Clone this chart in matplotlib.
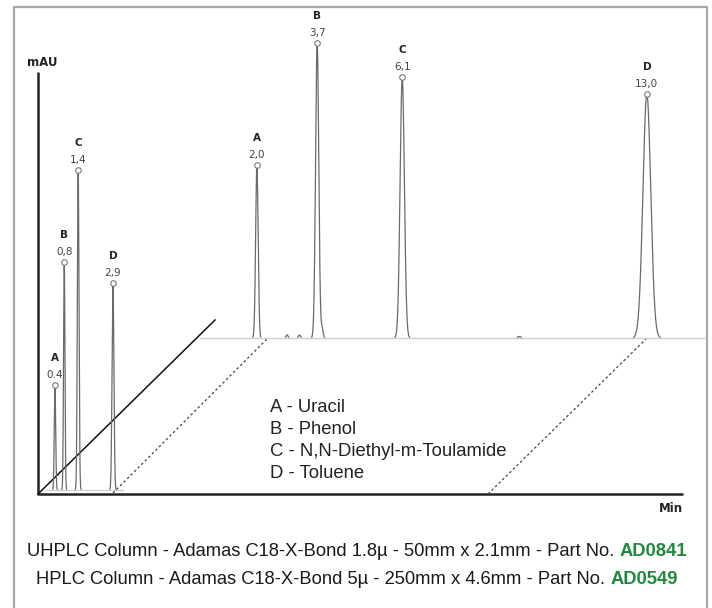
import matplotlib
matplotlib.use('Agg')
import matplotlib.pyplot as plt
import numpy as np

# peaks: label, retention time (min), height (mAU), width sigma (min)
peak_labels = ['A', 'B', 'C', 'D']
uhplc_times = [0.4, 0.8, 1.4, 2.9]
uhplc_heights = [105, 228, 320, 207]
uhplc_sigma = [0.03, 0.03, 0.035, 0.04]
uhplc_tick_text = ['0.4', '0,8', '1,4', '2,9']

hplc_times = [2.0, 3.7, 6.1, 13.0]
hplc_heights = [173, 295, 261, 244]
hplc_sigma = [0.035, 0.045, 0.06, 0.11]
hplc_tick_text = ['2,0', '3,7', '6,1', '13,0']

# small baseline bumps on the HPLC run
minor_times = [2.85, 3.2, 3.84, 9.4]
minor_heights = [3, 3, 9, 1.5]
minor_sigma = [0.03, 0.03, 0.03, 0.05]

compounds = ['A - Uracil', 'B - Phenol', 'C - N,N-Diethyl-m-Toulamide', 'D - Toluene']
footer_lines = [('UHPLC Column - Adamas C18-X-Bond 1.8\u00b5 - 50mm x 2.1mm - Part No. ', 'AD0841'),
                ('HPLC Column - Adamas C18-X-Bond 5\u00b5 - 250mm x 4.6mm - Part No. ', 'AD0549')]

W, H = 712, 608
fig = plt.figure(figsize=(W / 100, H / 100), dpi=100)

# background axes in pixel coordinates for frame, axes lines and texts
bg = fig.add_axes([0, 0, 1, 1])
bg.set_xlim(0, W)
bg.set_ylim(H, 0)
bg.axis('off')


def pix_axes(x0, x1, ytop, ybot):
    return fig.add_axes([x0 / W, 1 - ybot / H, (x1 - x0) / W, (ybot - ytop) / H])


def signal(t, times, heights, sigmas):
    y = np.zeros_like(t)
    for rt, h, s in zip(times, heights, sigmas):
        y += h * np.exp(-0.5 * ((t - rt) / s) ** 2)
    return y


def draw_run(ax, t, times, heights, sigmas, texts, extra=None):
    y = signal(t, times, heights, sigmas)
    if extra is not None:
        y += signal(t, *extra)
    ax.plot([t[0], t[-1]], [0, 0], color='#cfcfcf', lw=1.0, zorder=1)
    yp = np.where(y > 0.8, y, np.nan)
    ax.plot(t, yp, color='#6a6a6a', lw=0.9, zorder=2)
    for lab, rt, h, txt in zip(peak_labels, times, heights, texts):
        ax.plot(rt, h, 'o', ms=4, mfc='white', mec='#777777', mew=0.8, zorder=3)
        ax.annotate(txt, (rt, h), xytext=(0, 10), textcoords='offset pixels',
                    ha='center', va='center', fontsize=7.5, color='#444444')
        ax.annotate(lab, (rt, h), xytext=(0, 27), textcoords='offset pixels',
                    ha='center', va='center', fontsize=7.5, fontweight='bold', color='#222222')
    ax.axis('off')
    ax.patch.set_alpha(0)


# back (HPLC) chromatogram
ax_back = pix_axes(190, 705, 20, 494)
px_min = 35.45
ax_back.set_xlim((190 - 186) / px_min, (705 - 186) / px_min)
ax_back.set_ylim(-(494 - 338), 338 - 20)
t_back = np.linspace(0.4, 14.6, 4000)
draw_run(ax_back, t_back, hplc_times, hplc_heights, hplc_sigma, hplc_tick_text,
         extra=(minor_times, minor_heights, minor_sigma))

# front (UHPLC) chromatogram
ax_front = pix_axes(38, 130, 40, 494)
px_min_f = 23.2
ax_front.set_xlim((38 - 45.7) / px_min_f, (130 - 45.7) / px_min_f)
ax_front.set_ylim(-(494 - 490), 490 - 40)
t_front = np.linspace(0.0, 3.35, 3000)
draw_run(ax_front, t_front, uhplc_times, uhplc_heights, uhplc_sigma, uhplc_tick_text)

# outer frame (open at the bottom)
bg.plot([13.5, 13.5, 706.5, 706.5], [H, 6.5, 6.5, H], color='#a8a8a8', lw=1.6)

# axis lines
bg.plot([38, 38, 683], [72, 494, 494], color='#222222', lw=1.8, solid_capstyle='butt')
bg.text(42, 63, 'mAU', ha='center', va='center', fontsize=8.5, fontweight='bold', color='#222222')
bg.text(683, 509, 'Min', ha='right', va='center', fontsize=8.5, fontweight='bold', color='#222222')

# perspective lines
bg.plot([38, 215], [494, 320], color='#111111', lw=1.1)
for (xa, ya), (xb, yb) in [((113, 493), (268, 338)), ((488, 494), (647, 338))]:
    bg.plot([xa, xb], [ya, yb], color='#444444', lw=0.9, linestyle=(0, (2, 2)))

# compound list
for i, name in enumerate(compounds):
    bg.text(270, 408 + 22 * i, name, ha='left', va='center', fontsize=13.3,
            family='Liberation Sans', color='#222222')

# footer with green part numbers, sized so the first line spans ~673 px
fig.canvas.draw()
renderer = fig.canvas.get_renderer()
foot_font = 'Liberation Sans'
probe = bg.text(0, 0, ''.join(footer_lines[0]), fontsize=12, family=foot_font)
size = 12 * 660 / probe.get_window_extent(renderer).width
probe.remove()
for (plain, part), yy in zip(footer_lines, [551, 580]):
    t1 = bg.text(0, yy, plain, ha='left', va='center', fontsize=size, family=foot_font, color='#1a1a1a')
    t2 = bg.text(0, yy, part, ha='left', va='center', fontsize=size, family=foot_font,
                 fontweight='bold', color='#1e8a3c')
    w1 = t1.get_window_extent(renderer).width
    w2 = t2.get_window_extent(renderer).width
    x0 = 357 - (w1 + w2) / 2
    t1.set_x(x0)
    t2.set_x(x0 + w1)

fig.savefig('out.png', dpi=100)
